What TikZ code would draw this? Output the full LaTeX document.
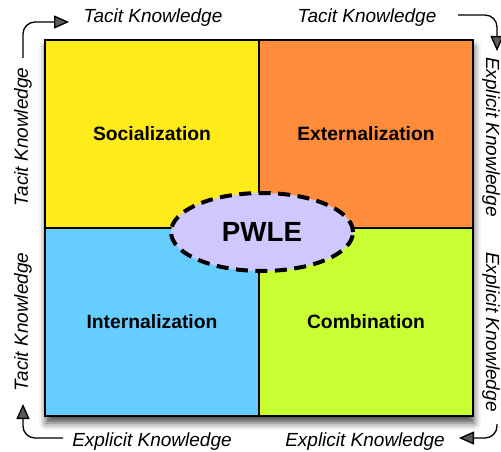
\documentclass[tikz,border=0pt]{standalone}
\usepackage{fontspec}
\setmainfont{Liberation Sans}
\usetikzlibrary{shapes.geometric,arrows.meta,shadows.blur}

\definecolor{quadyellow}{RGB}{255,235,26}
\definecolor{quadorange}{RGB}{255,140,58}
\definecolor{quadblue}{RGB}{102,206,255}
\definecolor{quadgreen}{RGB}{200,255,51}
\definecolor{corelilac}{RGB}{206,200,255}

\tikzset{
  quad/.style={draw=black, line width=1.3pt, minimum width=214pt, minimum height=188pt,
               inner sep=0pt, font=\fontsize{19.3}{23}\selectfont\bfseries},
  flowlabel/.style={inner sep=0pt, font=\fontsize{19}{23}\selectfont\itshape},
  flowarrow/.style={line width=1.3pt, rounded corners=12pt,
                    -{Triangle[length=15pt,width=13pt]}},
  core/.style={ellipse, draw=black, fill=corelilac, line width=4pt,
               dash pattern=on 12pt off 7.5pt, minimum width=182pt, minimum height=78pt,
               inner sep=0pt, font=\fontsize{27.7}{32}\selectfont\bfseries}
}

\begin{document}
\begin{tikzpicture}[x=1pt,y=-1pt]
  \useasboundingbox (0,0) rectangle (501,452);

  % shadowed frame behind the four quadrants
  \path[fill=white, blur shadow={shadow xshift=1pt, shadow yshift=-7pt,
        shadow blur radius=7pt, shadow opacity=70}]
        (45,40) rectangle (473,416);

  % the four knowledge-conversion modes
  \node[quad, fill=quadyellow] (soc) at (152,134) {Socialization};
  \node[quad, fill=quadorange] (ext) at (366,134) {Externalization};
  \node[quad, fill=quadblue]   (int) at (152,322) {Internalization};
  \node[quad, fill=quadgreen]  (com) at (366,322) {Combination};

  % centre
  \node[core] (pwle) at (262,232) {PWLE};

  % edge labels
  \node[flowlabel] (tTop1) at (153,18) {Tacit Knowledge};
  \node[flowlabel] (tTop2) at (367,18) {Tacit Knowledge};
  \node[flowlabel] (eBot1) at (152,442) {Explicit Knowledge};
  \node[flowlabel] (eBot2) at (365,442) {Explicit Knowledge};
  \node[flowlabel, rotate=90]  (tLeft1)  at (23,137) {Tacit Knowledge};
  \node[flowlabel, rotate=90]  (tLeft2)  at (23,322) {Tacit Knowledge};
  \node[flowlabel, rotate=-90] (eRight1) at (491,137) {Explicit Knowledge};
  \node[flowlabel, rotate=-90] (eRight2) at (491,332) {Explicit Knowledge};

  % cycle arrows at the corners
  \coordinate (a1s) at (23,58);   \coordinate (a1e) at (69,22);
  \coordinate (a2s) at (458,15);  \coordinate (a2e) at (497,51);
  \coordinate (a3s) at (497,424); \coordinate (a3e) at (459,438);
  \coordinate (a4s) at (63,438);  \coordinate (a4e) at (23,404);

  \draw[flowarrow] (a1s) |- (a1e);
  \draw[flowarrow] (a2s) -| (a2e);
  \draw[flowarrow] (a3s) |- (a3e);
  \draw[flowarrow] (a4s) -| (a4e);
\end{tikzpicture}
\end{document}
